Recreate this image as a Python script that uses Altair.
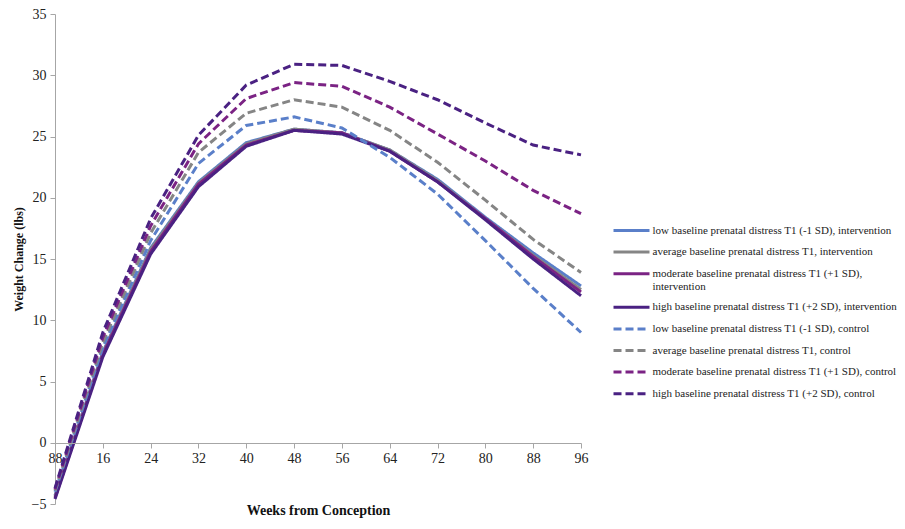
import altair as alt
import pandas as pd

weeks = [8, 16, 24, 32, 40, 48, 56, 64, 72, 80, 88, 96]
tick_labels = ["88", "16", "24", "32", "40", "48", "56", "64", "72", "80", "88", "96"]

series_names = [
    "low baseline prenatal distress T1 (-1 SD), intervention",
    "average baseline prenatal distress T1, intervention",
    "moderate baseline prenatal distress T1 (+1 SD), intervention",
    "high baseline prenatal distress T1 (+2 SD), intervention",
    "low baseline prenatal distress T1 (-1 SD), control",
    "average baseline prenatal distress T1, control",
    "moderate baseline prenatal distress T1 (+1 SD), control",
    "high baseline prenatal distress T1 (+2 SD), control",
]

int_low = [-4.3, 7.4, 15.9, 21.3, 24.5, 25.6, 25.3, 23.9, 21.5, 18.4, 15.5, 12.8]
int_avg = [-4.4, 7.3, 15.8, 21.2, 24.4, 25.6, 25.3, 23.9, 21.4, 18.3, 15.3, 12.5]
int_mod = [-4.5, 7.2, 15.6, 21.1, 24.3, 25.5, 25.3, 23.8, 21.3, 18.3, 15.2, 12.3]
int_high = [-4.6, 7.0, 15.4, 20.9, 24.2, 25.5, 25.2, 23.8, 21.3, 18.2, 15.0, 12.0]
ctl_low = [-4.0, 7.8, 16.5, 22.8, 25.9, 26.6, 25.7, 23.3, 20.3, 16.5, 12.6, 9.0]
ctl_avg = [-3.9, 8.2, 17.1, 23.7, 26.9, 28.0, 27.4, 25.5, 22.9, 19.8, 16.6, 13.9]
ctl_mod = [-3.8, 8.6, 17.7, 24.4, 28.1, 29.4, 29.1, 27.4, 25.2, 23.0, 20.6, 18.7]
ctl_high = [-3.7, 9.0, 18.3, 25.1, 29.2, 30.9, 30.8, 29.5, 28.0, 26.1, 24.3, 23.5]

all_values = [int_low, int_avg, int_mod, int_high, ctl_low, ctl_avg, ctl_mod, ctl_high]

colors = ["#5A7FC9", "#858585", "#7B2384", "#4A2182",
          "#5A7FC9", "#858585", "#7B2384", "#4A2182"]
dashes = [[1, 0], [1, 0], [1, 0], [1, 0], [8, 4], [8, 4], [8, 4], [8, 4]]

rows = []
for name, vals in zip(series_names, all_values):
    for w, v in zip(weeks, vals):
        rows.append({"series": name, "week": w, "value": v})
df = pd.DataFrame(rows)

label_array = "[" + ",".join("'" + t + "'" for t in tick_labels) + "]"
wrap_name = series_names[2]
legend_label_expr = (
    "datum.label == '" + wrap_name + "' ? "
    "['moderate baseline prenatal distress T1 (+1 SD),', 'intervention'] : datum.label"
)

legend = alt.Legend(
    title=None,
    orient="none",
    legendX=561.5,
    legendY=201.5,
    symbolType="M-1.333,0H1.333",
    symbolSize=729,
    symbolStrokeWidth=3,
    labelFont="Liberation Serif",
    labelFontSize=11,
    labelColor="#222222",
    labelLimit=400,
    labelOffset=6,
    rowPadding=0.6,
    padding=0,
    labelExpr=legend_label_expr,
)

FONT = "Liberation Serif"

chart = alt.Chart(df).mark_line(strokeWidth=3).encode(
    x=alt.X(
        "week:Q",
        scale=alt.Scale(domain=[8, 96], nice=False, zero=False),
        axis=alt.Axis(
            title="Weeks from Conception",
            values=weeks,
            labelExpr=label_array + "[(datum.value - 8) / 8]",
            labelOverlap=False,
            labelFlush=False,
            offset=-61,
            zindex=1,
            grid=False,
            domainColor="#A6A6A6",
            tickColor="#A6A6A6",
            tickSize=5,
            labelFont=FONT,
            labelFontSize=14,
            labelColor="#222222",
            labelPadding=3,
            titleFont=FONT,
            titleFontSize=14,
            titleFontWeight="bold",
            titleColor="#111111",
            titlePadding=38,
        ),
    ),
    y=alt.Y(
        "value:Q",
        scale=alt.Scale(domain=[-5, 35], nice=False, zero=False),
        axis=alt.Axis(
            title="Weight Change (lbs)",
            values=[-5, 0, 5, 10, 15, 20, 25, 30, 35],
            grid=False,
            domainColor="#A6A6A6",
            tickColor="#A6A6A6",
            tickSize=5,
            labelFont=FONT,
            labelFontSize=14,
            labelColor="#222222",
            labelPadding=4,
            titleFont=FONT,
            titleFontSize=12,
            titleFontWeight="bold",
            titleColor="#111111",
            titlePadding=6,
        ),
    ),
    color=alt.Color(
        "series:N",
        scale=alt.Scale(domain=series_names, range=colors),
        sort=series_names,
        legend=legend,
    ),
    strokeDash=alt.StrokeDash(
        "series:N",
        scale=alt.Scale(domain=series_names, range=dashes),
        sort=series_names,
        legend=legend,
    ),
).properties(
    width=526,
    height=490,
    autosize=alt.AutoSizeParams(type="none"),
    padding={"left": 47, "top": 6, "right": 316, "bottom": 17},
).configure_view(stroke=None)

chart.save("out.html", embed_options={"renderer": "svg", "actions": False})
